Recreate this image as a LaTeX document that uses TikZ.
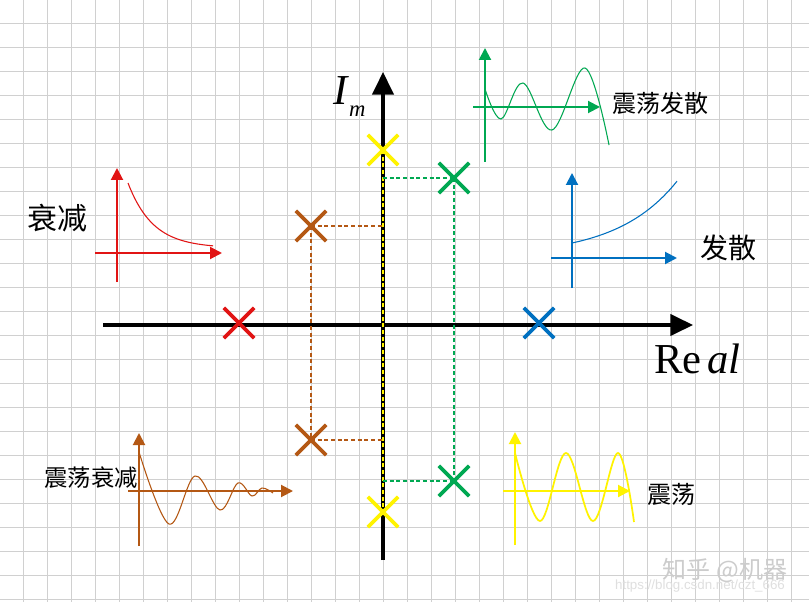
\documentclass[tikz,border=0pt]{standalone}
\usepackage{fontspec}
\setmainfont{Liberation Serif}
\setsansfont{Liberation Sans}
\newfontfamily\cjk{Noto Sans CJK SC}
\usetikzlibrary{arrows.meta,shapes.misc}
\definecolor{poleRed}{RGB}{225,20,20}
\definecolor{poleBlue}{RGB}{0,112,192}
\definecolor{poleGreen}{RGB}{0,168,82}
\definecolor{poleBrown}{RGB}{180,88,20}
\definecolor{poleYellow}{RGB}{255,243,0}
\definecolor{gridGray}{RGB}{208,208,208}
\tikzset{
  gridline/.style={gridGray, line width=0.6pt},
  bigaxis/.style={line width=2.4pt, -{Triangle[length=17pt,width=16pt]}},
  pole/.style={cross out, draw=#1, line width=2.7pt, minimum size=20pt, inner sep=0pt},
  guide/.style={#1, line width=1.7pt, dash pattern=on 3pt off 2pt},
  miniaxis/.style={#1, line width=1.5pt, -{Triangle[length=9pt,width=9pt]}},
  response/.style={#1, line width=0.8pt},
  lbl/.style={font=\cjk\fontsize{#1}{#1}\selectfont, inner sep=0pt},
}
\begin{document}
\begin{tikzpicture}[x=0.75pt,y=-0.75pt]
\useasboundingbox (0,0) rectangle (809,602);
\fill[white] (0,0) rectangle (809,602);
\foreach \gx in {0,...,32} % vertical grid lines
\draw[gridline] ({23.5+24*\gx},0) -- ++(0,602);
\foreach \gy in {0,...,24} % horizontal grid lines
\draw[gridline] (0,{23.5+24*\gy}) -- ++(809,0);

% the s-plane
\coordinate (o) at (383,325);
\coordinate (reL) at (103,325);
\coordinate (reR) at (693,325);
\coordinate (imB) at (383,560);
\coordinate (imT) at (383,72);
\draw[bigaxis] (reL) -- (reR);
\draw[bigaxis] (imB) -- (imT);
\node[anchor=base west, inner sep=0pt, font=\fontsize{32}{32}\selectfont] (imLbl) at (333,105) {\textit{I}\raisebox{-9pt}{\fontsize{17}{17}\selectfont\textit{m}}};
\node[anchor=base west, inner sep=0pt, font=\fontsize{32}{32}\selectfont] (reLbl) at (654,373) {Re\hspace{0.14em}\textit{al}};

% poles
\node[pole=poleYellow] (pY1) at (383,150) {};
\node[pole=poleYellow] (pY2) at (383,512) {};
\node[pole=poleGreen] (pG1) at (454,178) {};
\node[pole=poleGreen] (pG2) at (454,481) {};
\node[pole=poleBrown] (pB1) at (311,226) {};
\node[pole=poleBrown] (pB2) at (311,440) {};
\node[pole=poleRed] (pR) at (239,323) {};
\node[pole=poleBlue] (pBl) at (539,323) {};

% dashed guides
\draw[guide=poleYellow] (pY1.center) -- (pY2.center);
\draw[guide=poleBrown] (pB1.center) -- (pB2.center);
\draw[guide=poleBrown] (pB1.center) -- (pB1.center -| o);
\draw[guide=poleBrown] (pB2.center) -- (pB2.center -| o);
\draw[guide=poleGreen] (pG1.center) -- (pG2.center);
\draw[guide=poleGreen] (pG1.center -| o) -- (pG1.center);
\draw[guide=poleGreen] (pG2.center -| o) -- (pG2.center);

% decaying
\draw[miniaxis=poleRed] (117,282) -- (117,168);
\draw[miniaxis=poleRed] (95,253) -- (222,253);
\draw[response=poleRed] plot[domain=128:213,samples=40] (\x,{248-65*exp(-(\x-128)/25)});
\node[lbl=22.5] (tDecay) at (57,218) {衰减};

% growing oscillation
\draw[miniaxis=poleGreen] (485,162) -- (485,48);
\draw[miniaxis=poleGreen] (473,107) -- (600,107);
\draw[response=poleGreen] plot[smooth,tension=0.6] coordinates {(485,89) (501,119) (523,83) (552,130) (585,68) (609,145)};
\node[lbl=18] (tGrowOsc) at (660,103) {震荡发散};

% growing
\draw[miniaxis=poleBlue] (572,288) -- (572,173);
\draw[miniaxis=poleBlue] (551,258) -- (677,258);
\draw[response=poleBlue] plot[domain=572:677,samples=40] (\x,{243-13*(exp((\x-572)/60)-1)});
\node[lbl=21] (tGrow) at (728,248) {发散};

% decaying oscillation
\draw[miniaxis=poleBrown] (139,546) -- (139,433);
\draw[miniaxis=poleBrown] (128,491) -- (293,491);
\draw[response=poleBrown] plot[smooth,tension=0.6] coordinates {(139,452) (169,524) (195,476) (220,510) (238,483) (252,496) (262,488) (273,493)};
\node[lbl=17.5] (tDecayOsc) at (91,478) {震荡衰减};

% pure oscillation
\draw[miniaxis=poleYellow] (515,545) -- (515,432);
\draw[miniaxis=poleYellow] (503,491) -- (630,491);
\draw[response=poleYellow, line width=1.3pt] plot[smooth,tension=0.6] coordinates {(515,453) (540,521) (566,453) (593,521) (618,453) (634,522)};
\node[lbl=18] (tOsc) at (671,494) {震荡};

% watermarks
\node[lbl=18, text=gray!40] (wmZhihu) at (725,570) {知乎 @机器};
\node[font=\sffamily\fontsize{10}{10}\selectfont, text=gray!25, inner sep=0pt] (wmCsdn) at (700,586) {https://blog.csdn.net/czt\_666};
\end{tikzpicture}
\end{document}
